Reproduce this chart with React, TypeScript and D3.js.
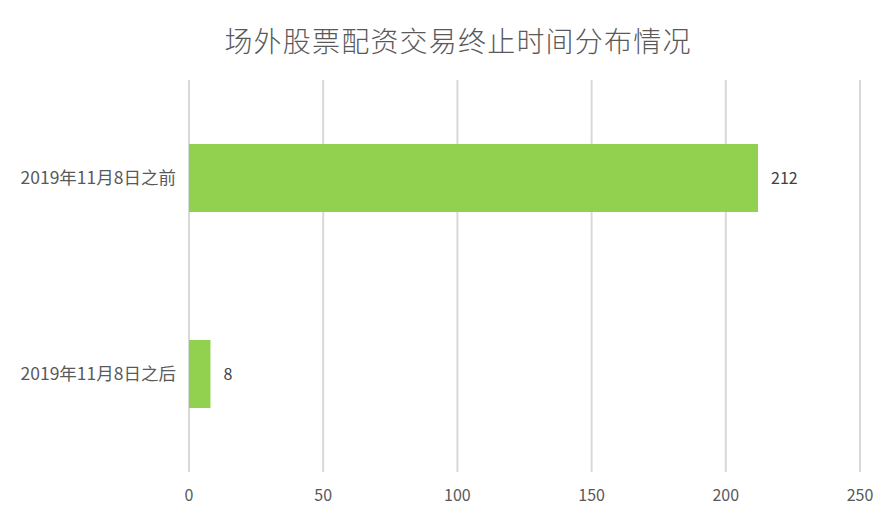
import { useEffect, useRef } from "react";
import * as d3 from "d3";

const categories = ["2019年11月8日之前", "2019年11月8日之后"];
const values = [212, 8];
const xTicks = [0, 50, 100, 150, 200, 250];
const title = "场外股票配资交易终止时间分布情况";

const W = 886;
const H = 523;
const FONT = "'Noto Sans CJK SC', 'Noto Sans', sans-serif";

export default function App() {
  const svgRef = useRef<SVGSVGElement>(null);

  useEffect(() => {
    if (!svgRef.current) return;
    const svg = d3.select(svgRef.current);
    svg.selectAll("*").remove();

    const plot = { left: 189, right: 860, top: 80, bottom: 472 };

    const x = d3.scaleLinear().domain([0, 250]).range([plot.left, plot.right]);
    const y = d3
      .scaleBand<string>()
      .domain(categories)
      .range([plot.top, plot.bottom])
      .paddingInner(0.653)
      .paddingOuter(0.3265);

    // background + border
    svg.append("rect").attr("x", 0.5).attr("y", 0.5).attr("width", W - 1).attr("height", H - 1)
      .attr("fill", "#fff").attr("stroke", "#d9d9d9").attr("stroke-width", 1.5);

    // title
    svg.append("text").attr("x", 458).attr("y", 52).attr("text-anchor", "middle")
      .style("font-family", FONT).style("font-size", "28px").style("font-weight", "300")
      .style("letter-spacing", "1.2px")
      .style("fill", "#595959").text(title);

    // gridlines
    svg.append("g").selectAll("line").data(xTicks).enter().append("line")
      .attr("x1", (d) => x(d)).attr("x2", (d) => x(d))
      .attr("y1", plot.top).attr("y2", plot.bottom)
      .attr("stroke", "#d9d9d9").attr("stroke-width", 2);

    // x tick labels
    svg.append("g").selectAll("text").data(xTicks).enter().append("text")
      .attr("x", (d) => x(d)).attr("y", 501).attr("text-anchor", "middle")
      .style("font-family", FONT).style("font-size", "16px").style("fill", "#595959")
      .text((d) => d);

    // category labels
    svg.append("g").selectAll("text").data(categories).enter().append("text")
      .attr("x", 176).attr("y", (d) => (y(d) ?? 0) + y.bandwidth() / 2 + 6)
      .attr("text-anchor", "end")
      .style("font-family", FONT).style("font-size", "17.5px").style("fill", "#595959")
      .text((d) => d);

    // bars
    svg.append("g").selectAll("rect").data(values).enter().append("rect")
      .attr("x", x(0)).attr("y", (_, i) => y(categories[i]) ?? 0)
      .attr("width", (d) => x(d) - x(0)).attr("height", y.bandwidth())
      .attr("fill", "#92d050");

    // value labels
    svg.append("g").selectAll("text").data(values).enter().append("text")
      .attr("x", (d) => x(d) + 13).attr("y", (_, i) => (y(categories[i]) ?? 0) + y.bandwidth() / 2 + 6)
      .style("font-family", FONT).style("font-size", "16px").style("fill", "#404040")
      .text((d) => d);
  }, []);

  return (
    <div style={{ margin: -8 }}>
      <svg ref={svgRef} width={W} height={H} style={{ display: "block" }} />
    </div>
  );
}
